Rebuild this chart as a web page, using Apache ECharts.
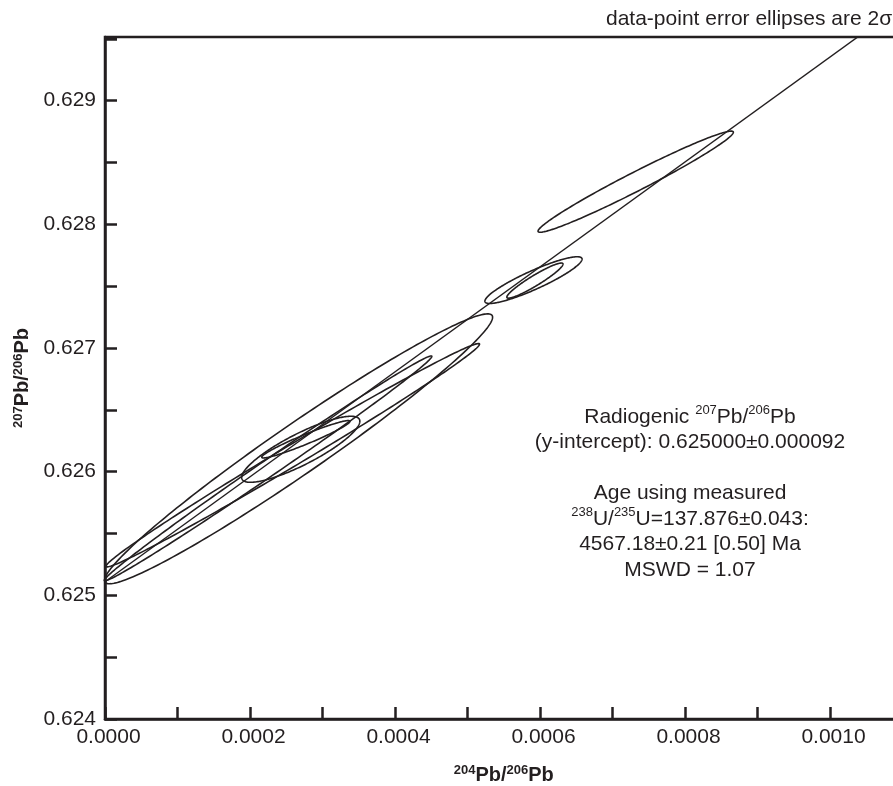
<!DOCTYPE html>
<html><head><meta charset="utf-8">
<script src="https://cdn.jsdelivr.net/npm/echarts@6.0.0/dist/echarts.min.js"></script>
<style>html,body{margin:0;padding:0;background:#fff}#c{width:893px;height:786px}</style>
</head><body><div id="c"></div>
<script>
// Error ellipses (2 sigma): centre x, centre y, half-extent x, half-extent y, correlation
const ellX   = [0.000732, 0.000591, 0.000593, 0.000267, 0.000259, 0.000225, 0.000270, 0.000277];
const ellY   = [0.628345, 0.627549, 0.627545, 0.626185, 0.626133, 0.626027, 0.626181, 0.626262];
const ellEx  = [0.0001347, 0.0000670, 0.0000387, 0.0002676, 0.0002576, 0.0002258, 0.0000815, 0.0000608];
const ellEy  = [0.000409, 0.000189, 0.000142, 0.0010914, 0.000903, 0.000909, 0.000267, 0.000151];
const ellRho = [0.978, 0.90, 0.94, 0.9748, 0.9942, 0.996, 0.85, 0.96];

// Regression line
const regIntercept = 0.62511;
const regSlope = 4.243;
const lineXRange = [0, 0.0011];

// Axes
const xRange = [0, 0.0011];
const yRange = [0.624, 0.629515];
const xTickStep = 0.0001, xLabelStep = 0.0002;
const yTickStep = 0.0005, yLabelStep = 0.001;

const INK = '#231f20';
const FONT = 'Liberation Sans, Arial, Helvetica, sans-serif';

const chart = echarts.init(document.getElementById('c'), null, {renderer: 'canvas'});

function isMult(v, step) {
  const r = v / step;
  return Math.abs(r - Math.round(r)) < 1e-6;
}

const supStyle = {fontSize: 13, fontWeight: 'bold', fontFamily: FONT, color: INK, verticalAlign: 'top', lineHeight: 14};
const nameStyle = {fontSize: 20, fontWeight: 'bold', fontFamily: FONT, color: INK, lineHeight: 22};

const option = {
  animation: false,
  backgroundColor: '#fff',
  grid: {left: 105, top: 37, width: 797.5, height: 682, outerBoundsMode: 'none', containLabel: false,
         show: true, borderColor: INK, borderWidth: 2.5, backgroundColor: 'transparent'},
  xAxis: {
    type: 'value', min: xRange[0], max: xRange[1], interval: xTickStep,
    splitLine: {show: false},
    axisLine: {show: true, onZero: false, lineStyle: {color: INK, width: 2.5}},
    axisTick: {show: true, inside: true, length: 12, lineStyle: {color: INK, width: 2.5}},
    axisLabel: {
      margin: 8, fontSize: 21, fontFamily: FONT, color: INK, padding: [0, 0, 0, 7],
      formatter: v => isMult(v, xLabelStep) ? v.toFixed(4) : ''
    },
    name: '{s|204}{n|Pb/}{s|206}{n|Pb}', nameLocation: 'middle', nameGap: 45,
    nameTextStyle: {rich: {s: supStyle, n: nameStyle}}
  },
  yAxis: {
    type: 'value', min: yRange[0], max: yRange[1], interval: yTickStep,
    splitLine: {show: false},
    axisLine: {show: true, onZero: false, lineStyle: {color: INK, width: 2.5}},
    axisTick: {show: true, inside: true, length: 12, lineStyle: {color: INK, width: 2.5}},
    axisLabel: {
      margin: 9, fontSize: 21, fontFamily: FONT, color: INK,
      formatter: v => isMult(v, yLabelStep) ? v.toFixed(3) : ''
    },
    name: '{s|207}{n|Pb/}{s|206}{n|Pb}', nameLocation: 'middle', nameGap: 67, nameRotate: 90,
    nameTextStyle: {rich: {s: supStyle, n: nameStyle}}
  },
  graphic: [
    {type: 'text', x: 606, y: 19, style: {text: 'data-point error ellipses are 2σ', fill: INK, font: '21px ' + FONT, textVerticalAlign: 'middle', verticalAlign: 'middle'}},
    {type: 'text', x: 690, y: 404, style: {
      text: 'Radiogenic {s|207}Pb/{s|206}Pb\n(y-intercept): 0.625000±0.000092\n\nAge using measured\n{s|238}U/{s|235}U=137.876±0.043:\n4567.18±0.21 [0.50] Ma\nMSWD = 1.07',
      fill: INK, font: '21px ' + FONT, fontSize: 21, fontFamily: FONT, lineHeight: 25.5,
      align: 'center', textAlign: 'center', verticalAlign: 'top', textVerticalAlign: 'top',
      rich: {s: {fontSize: 13, fontFamily: FONT, fill: INK, verticalAlign: 'top', lineHeight: 17}}
    }}
  ],
  series: [
    {
      type: 'custom',
      coordinateSystem: 'cartesian2d',
      silent: true,
      encode: {x: 0, y: 1},
      data: ellX.map((x, i) => [x, ellY[i], ellEx[i], ellEy[i], ellRho[i]]),
      renderItem: function (params, api) {
        const cx = api.value(0), cy = api.value(1), ex = api.value(2), ey = api.value(3), r = api.value(4);
        const q = Math.sqrt(1 - r * r);
        const pts = [];
        const N = 240;
        for (let k = 0; k < N; k++) {
          const t = 2 * Math.PI * k / N;
          pts.push(api.coord([cx + ex * Math.cos(t), cy + ey * (r * Math.cos(t) + q * Math.sin(t))]));
        }
        return {type: 'polygon', shape: {points: pts}, style: {fill: 'none', stroke: INK, lineWidth: 1.6}};
      }
    },
    {
      type: 'line', silent: true, symbol: 'none', clip: true,
      data: lineXRange.map(x => [x, regIntercept + regSlope * x]),
      lineStyle: {color: INK, width: 1.4}
    }
  ]
};
chart.setOption(option);
</script>
</body></html>
